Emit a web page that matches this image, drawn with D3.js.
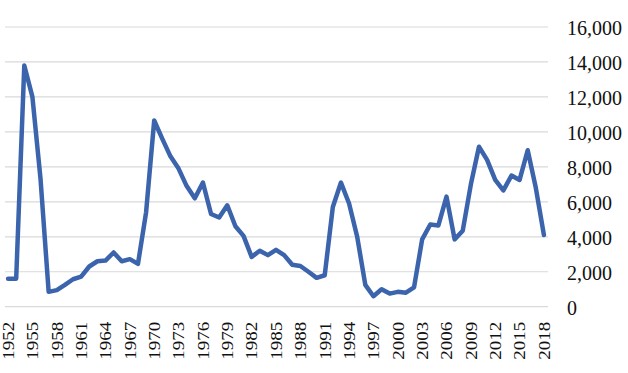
<!DOCTYPE html>
<html>
<head>
<meta charset="utf-8">
<script src="https://cdn.jsdelivr.net/npm/d3@7"></script>
<style>
  html, body { margin: 0; padding: 0; background: #fff; }
  svg { display: block; }
  text { font-family: "Liberation Serif", "Times New Roman", serif; fill: #111; }
</style>
</head>
<body>
<svg id="chart" width="628" height="373"></svg>
<script>
const years = d3.range(1952, 2019);
const values = [
  1600, 1600, 13800, 12000, 7300, 850, 950, 1250, 1570, 1720,
  2300, 2600, 2640, 3100, 2600, 2720, 2450, 5400, 10650, 9600,
  8600, 7900, 6900, 6200, 7100, 5300, 5100, 5800, 4600, 4050,
  2850, 3200, 2950, 3250, 2950, 2400, 2330, 2000, 1650, 1800,
  5700, 7100, 5900, 4000, 1250, 600, 1000, 750, 850, 800,
  1100, 3850, 4700, 4650, 6300, 3850, 4350, 7000, 9150, 8400,
  7250, 6650, 7500, 7250, 8950, 6800, 4100
];
const yTicks = [0, 2000, 4000, 6000, 8000, 10000, 12000, 14000, 16000];
const xTickYears = d3.range(1952, 2019, 3);

const svg = d3.select("#chart");
const plot = { left: 4, right: 548, top: 27, bottom: 306.7 };

const x = d3.scaleBand().domain(years).range([plot.left, plot.right]).padding(0);
const y = d3.scaleLinear().domain([0, 16000]).range([plot.bottom, plot.top]);
const fmt = d3.format(",");

// gridlines
svg.append("g")
  .selectAll("line")
  .data(yTicks)
  .join("line")
  .attr("x1", plot.left + 1)
  .attr("x2", plot.right)
  .attr("y1", d => y(d))
  .attr("y2", d => y(d))
  .attr("stroke", "#d9d9d9")
  .attr("stroke-width", 1.2);

// y axis labels (right)
const yAxis = d3.axisRight(y).tickValues(yTicks).tickFormat(fmt).tickSize(0).tickPadding(0);
const gy = svg.append("g").attr("transform", "translate(567,0)").call(yAxis);
gy.select(".domain").remove();
gy.selectAll("text")
  .attr("x", 0)
  .attr("dy", "0.38em")
  .style("font-size", "20px")
  .style("font-family", "'Liberation Serif', 'Times New Roman', serif")
  .attr("fill", "#111");

// x axis labels
const xAxis = d3.axisBottom(x).tickValues(xTickYears).tickSize(0).tickPadding(0);
const gx = svg.append("g").attr("transform", `translate(0,${plot.bottom})`).call(xAxis);
gx.select(".domain").remove();
gx.selectAll("text")
  .attr("transform", "rotate(-90) scale(1,0.85)")
  .attr("text-anchor", "end")
  .attr("x", -15)
  .attr("y", 0)
  .attr("dy", "0.36em")
  .style("font-size", "19px")
  .style("font-family", "'Liberation Serif', 'Times New Roman', serif")
  .attr("fill", "#111");

// line
const line = d3.line()
  .x((d, i) => x(years[i]) + x.bandwidth() / 2)
  .y(d => y(d));

svg.append("path")
  .datum(values)
  .attr("fill", "none")
  .attr("stroke", "#3b64ad")
  .attr("stroke-width", 4.5)
  .attr("stroke-linejoin", "round")
  .attr("stroke-linecap", "round")
  .attr("d", line);
</script>
</body>
</html>
